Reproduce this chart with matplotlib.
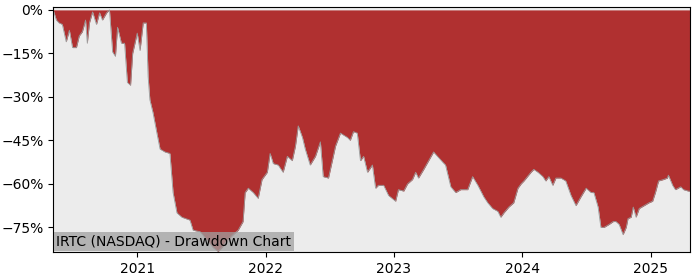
import numpy as np
import pandas as pd
import matplotlib
matplotlib.use('Agg')
import matplotlib.pyplot as plt
import matplotlib.dates as mdates
from matplotlib.ticker import MultipleLocator, PercentFormatter

ticker = 'IRTC (NASDAQ)'

# drawdown points (percent below running high)
dates = [
    '2020-05-07', '2020-05-16', '2020-05-24', '2020-06-02', '2020-06-13', '2020-06-22',
    '2020-07-01', '2020-07-12', '2020-07-20', '2020-07-29', '2020-08-07', '2020-08-12',
    '2020-08-18', '2020-08-27', '2020-09-07', '2020-09-16', '2020-09-24', '2020-10-06',
    '2020-10-14', '2020-10-23', '2020-10-31', '2020-11-06', '2020-11-17', '2020-11-26',
    '2020-12-04', '2020-12-13', '2020-12-19',
    '2021-01-01', '2021-01-09', '2021-01-18', '2021-01-27', '2021-02-01', '2021-02-06',
    '2021-02-15', '2021-02-26', '2021-03-07', '2021-03-21', '2021-04-04', '2021-04-13',
    '2021-04-24', '2021-05-08', '2021-05-31', '2021-06-09', '2021-06-29', '2021-07-19',
    '2021-08-05', '2021-08-19', '2021-08-30', '2021-09-14', '2021-10-01', '2021-10-15',
    '2021-10-29', '2021-11-04', '2021-11-13', '2021-11-27', '2021-12-11', '2021-12-22',
    '2022-01-06', '2022-01-14', '2022-01-23', '2022-02-06', '2022-02-20', '2022-03-04',
    '2022-03-18', '2022-03-27', '2022-04-04', '2022-04-16', '2022-04-24', '2022-05-08',
    '2022-05-23', '2022-06-06', '2022-06-14', '2022-06-29', '2022-07-10', '2022-07-19',
    '2022-08-02', '2022-08-22', '2022-08-30', '2022-09-08', '2022-09-19', '2022-09-28',
    '2022-10-07', '2022-10-18', '2022-11-01', '2022-11-10', '2022-11-18', '2022-12-03',
    '2022-12-17',
    '2023-01-06', '2023-01-14', '2023-01-29', '2023-02-09', '2023-02-23', '2023-03-04',
    '2023-03-12', '2023-03-27', '2023-04-10', '2023-04-24', '2023-05-05', '2023-05-20',
    '2023-05-28', '2023-06-12', '2023-06-26', '2023-07-10', '2023-07-30', '2023-08-13',
    '2023-08-28', '2023-09-14', '2023-09-25', '2023-10-09', '2023-10-24', '2023-11-01',
    '2023-11-10', '2023-11-24', '2023-12-08', '2023-12-20', '2023-12-29',
    '2024-01-06', '2024-01-26', '2024-02-03', '2024-02-15', '2024-02-29', '2024-03-08',
    '2024-03-17', '2024-03-28', '2024-04-06', '2024-04-20', '2024-05-04', '2024-05-19',
    '2024-06-02', '2024-06-16', '2024-07-01', '2024-07-15', '2024-07-23', '2024-08-04',
    '2024-08-12', '2024-08-21', '2024-09-04', '2024-09-16', '2024-09-24', '2024-10-03',
    '2024-10-14', '2024-10-23', '2024-10-28', '2024-11-06', '2024-11-12', '2024-11-20',
    '2024-11-29', '2024-12-13', '2024-12-27',
    '2025-01-06', '2025-01-14', '2025-01-23', '2025-02-06', '2025-02-17', '2025-02-20',
    '2025-03-04', '2025-03-12', '2025-03-27', '2025-04-04', '2025-04-18', '2025-04-23',
]
drawdown = [
    0, -3.5, -4.5, -5, -11, -7,
    -13, -13, -9, -7.5, -3.5, -11.5,
    -4.5, -0.7, -5, -1, -3.5, -1,
    0, -14.5, -16, -6, -11.5, -11.5,
    -25, -26, -15,
    -8, -14, -4.5, -4.5, -23, -31,
    -35.5, -42.5, -48, -49, -49.5, -63,
    -70, -71.5, -72.5, -76, -76.5, -79.5,
    -82, -83.3, -82, -79.5, -77.5, -76,
    -73, -63, -61.5, -63, -65, -58.5,
    -56, -49.5, -53, -53.5, -56, -50.5,
    -52, -47, -40, -44, -48, -53.5,
    -50.5, -45.5, -57.5, -58, -52, -47,
    -42.5, -44, -45, -42, -42.5, -52,
    -50.5, -56, -53.5, -61.5, -60.5, -60.5,
    -64,
    -66, -62, -62.5, -60, -58.5, -56,
    -58, -55, -52, -49, -50.5, -52.5,
    -53.5, -61, -63, -62, -62, -57.5,
    -60.5, -64.5, -66.5, -68.5, -69.5, -71.5,
    -70, -68, -66.5, -61.5, -60,
    -59, -56, -55, -56, -57.5, -59,
    -57.5, -60.5, -58, -58, -59, -64,
    -67.5, -64.5, -61.5, -63, -63, -68,
    -75, -75, -74, -73, -73, -74,
    -77.5, -75, -72, -71.5, -68, -71.5,
    -68.5, -67.5, -66.5,
    -66, -63, -59, -58.5, -58, -57,
    -60.5, -62, -61, -62, -62.5, -62.5,
]

df = pd.DataFrame({'date': pd.to_datetime(dates), 'dd': drawdown})

fig, ax = plt.subplots(figsize=(7, 2.8), dpi=100)
fig.subplots_adjust(left=0.076, right=0.986, top=0.975, bottom=0.1)
ax.set_facecolor('#ececec')

ax.fill_between(df['date'], df['dd'], 0, color='#b03030', linewidth=0)
ax.plot(df['date'], df['dd'], color='#9a9a9a', linewidth=0.6)

ax.set_xlim(df['date'].iloc[0], df['date'].iloc[-1])
ax.set_ylim(-83.5, 1)
ax.yaxis.set_major_locator(MultipleLocator(15))
ax.yaxis.set_major_formatter(PercentFormatter(decimals=0))
ax.xaxis.set_major_locator(mdates.YearLocator())
ax.xaxis.set_major_formatter(mdates.DateFormatter('%Y'))
ax.tick_params(labelsize=10)

ax.text(0.005, 0.015, f'{ticker} - Drawdown Chart', transform=ax.transAxes,
        fontsize=10, ha='left', va='bottom',
        bbox=dict(facecolor='#a0a0a0', alpha=0.75, edgecolor='none', pad=2))

plt.savefig('out.png', dpi=100)
plt.close()
